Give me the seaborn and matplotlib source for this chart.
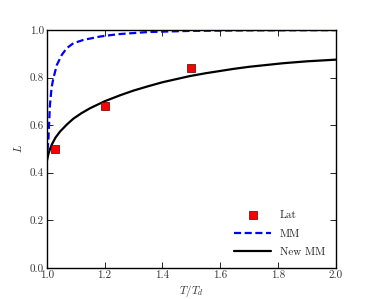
import matplotlib
matplotlib.use("Agg")
import matplotlib.pyplot as plt
import seaborn as sns
import pandas as pd

# Data
lat_x = [1.03, 1.20, 1.50]
lat_y = [0.50, 0.68, 0.84]

mm_x = [1.000, 1.003, 1.006, 1.011, 1.017, 1.023, 1.035, 1.052, 1.069, 1.092,
        1.127, 1.184, 1.246, 1.35, 1.5, 1.7, 2.0]
mm_y = [0.450, 0.500, 0.545, 0.685, 0.760, 0.797, 0.853, 0.895, 0.923, 0.944,
        0.958, 0.972, 0.982, 0.991, 0.996, 0.998, 0.999]

nmm_x = [1.000, 1.005, 1.010, 1.017, 1.030, 1.046, 1.070, 1.092, 1.120, 1.150,
         1.200, 1.253, 1.300, 1.350, 1.400, 1.495, 1.550, 1.645, 1.700, 1.818,
         1.900, 2.000]
nmm_y = [0.447, 0.475, 0.495, 0.517, 0.547, 0.573, 0.603, 0.627, 0.650, 0.671,
         0.700, 0.725, 0.745, 0.763, 0.780, 0.806, 0.818, 0.836, 0.845, 0.860,
         0.868, 0.875]

sns.set_style("ticks")
plt.rcParams['font.family'] = ['cmr10', 'DejaVu Serif']
plt.rcParams['mathtext.fontset'] = 'cm'
plt.rcParams['axes.formatter.use_mathtext'] = True
plt.rcParams['font.size'] = 8

fig = plt.figure(figsize=(3.74, 2.99), dpi=100)
ax = fig.add_axes([0.125, 0.104, 0.773, 0.796])

df_lat = pd.DataFrame({"x": lat_x, "y": lat_y})
df_mm = pd.DataFrame({"x": mm_x, "y": mm_y})
df_nmm = pd.DataFrame({"x": nmm_x, "y": nmm_y})

sns.scatterplot(data=df_lat, x="x", y="y", ax=ax, marker="s", s=30,
                color="red", edgecolor="#550000", linewidth=0.5, label="Lat", zorder=3)
sns.lineplot(data=df_mm, x="x", y="y", ax=ax, color="blue", linestyle=(0, (3.2, 1.6)),
             linewidth=1.6, label="MM")
sns.lineplot(data=df_nmm, x="x", y="y", ax=ax, color="black", linewidth=1.6,
             label="New MM")

ax.set_xlim(1.0, 2.0)
ax.set_ylim(0.0, 1.0)
ax.set_xticks([1.0, 1.2, 1.4, 1.6, 1.8, 2.0])
ax.set_yticks([0.0, 0.2, 0.4, 0.6, 0.8, 1.0])
ax.set_xticklabels(["1.0", "1.2", "1.4", "1.6", "1.8", "2.0"])
ax.set_yticklabels(["0.0", "0.2", "0.4", "0.6", "0.8", "1.0"])
ax.tick_params(direction="in", top=True, right=True, length=4, width=0.6,
               labelsize=8, colors="black", labelcolor="#333333", pad=2)
for sp in ax.spines.values():
    sp.set_linewidth(1.0)
    sp.set_color("black")
    sp.set_visible(True)
ax.set_xlabel("$T/T_d$", fontsize=8, color="#333333", labelpad=2)
ax.set_ylabel("$L$", fontsize=8, color="#333333", labelpad=4)

ax.legend(loc="lower right", frameon=False, fontsize=8, handlelength=3.3,
          labelspacing=0.8, borderaxespad=0.55, handletextpad=0.8)

fig.savefig("out.png", dpi=100)
